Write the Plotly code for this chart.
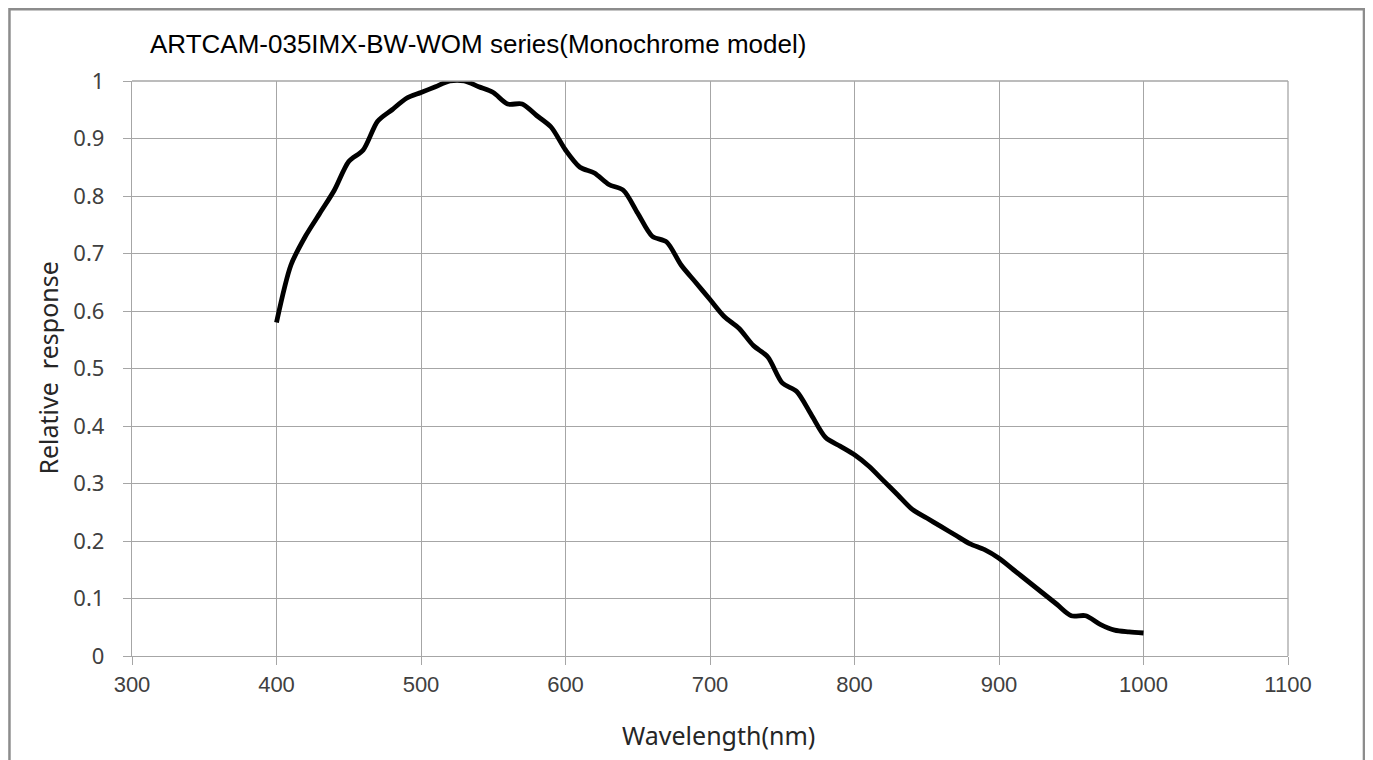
import plotly.graph_objects as go

wavelength = [400, 410, 420, 430, 440, 450, 460, 470, 480, 490,
              500, 510, 520, 530, 540, 550, 560, 570, 580, 590,
              600, 610, 620, 630, 640, 650, 660, 670, 680, 690,
              700, 710, 720, 730, 740, 750, 760, 770, 780, 790,
              800, 810, 820, 830, 840, 850, 860, 870, 880, 890,
              900, 910, 920, 930, 940, 950, 960, 970, 980, 990, 1000]
response = [0.58, 0.68, 0.73, 0.77, 0.81, 0.86, 0.88, 0.93, 0.95, 0.97,
            0.98, 0.99, 1.00, 1.00, 0.99, 0.98, 0.96, 0.96, 0.94, 0.92,
            0.88, 0.85, 0.84, 0.82, 0.81, 0.77, 0.73, 0.72, 0.68, 0.65,
            0.62, 0.59, 0.57, 0.54, 0.52, 0.475, 0.46, 0.42, 0.38, 0.365,
            0.35, 0.33, 0.305, 0.28, 0.255, 0.24, 0.225, 0.21, 0.195, 0.185,
            0.17, 0.15, 0.13, 0.11, 0.09, 0.07, 0.07, 0.055, 0.045, 0.042, 0.04]

x_ticks = [300, 400, 500, 600, 700, 800, 900, 1000, 1100]
y_ticks = [0, 0.1, 0.2, 0.3, 0.4, 0.5, 0.6, 0.7, 0.8, 0.9, 1]
y_tick_text = ["0", "0.1", "0.2", "0.3", "0.4", "0.5", "0.6", "0.7", "0.8", "0.9", "1"]

title_text = "ARTCAM-035IMX-BW-WOM series(Monochrome model)"
x_title = "Wavelength(nm)"
y_title = "Relative  response"

fig = go.Figure()
fig.add_trace(go.Scatter(
    x=wavelength, y=response, mode="lines",
    line=dict(color="black", width=4.8, shape="spline", smoothing=0.8),
    showlegend=False, hoverinfo="x+y",
))

grid = "#a6a6a6"
fig.update_layout(
    width=1373, height=760,
    margin=dict(l=124, r=93, t=73, b=112),
    paper_bgcolor="white", plot_bgcolor="white",
    xaxis=dict(
        range=[300, 1100], tickvals=x_ticks, ticktext=[str(v) for v in x_ticks],
        showgrid=True, gridcolor=grid, gridwidth=1.3,
        showline=True, linecolor=grid, linewidth=1.3, mirror=False,
        ticks="outside", ticklen=8, tickcolor=grid, tickwidth=1.3,
        tickfont=dict(family="Liberation Sans", size=22, color="#404040"),
        zeroline=False,
    ),
    yaxis=dict(
        range=[0, 1], tickvals=y_ticks, ticktext=y_tick_text,
        showgrid=True, gridcolor=grid, gridwidth=1.3,
        showline=True, linecolor=grid, linewidth=1.3,
        ticks="outside", ticklen=8, tickcolor=grid, tickwidth=1.3,
        tickfont=dict(family="Noto Sans", size=22, color="#404040"),
        ticklabelstandoff=14,
        zeroline=False,
    ),
)

# right and top edges of the plot frame (gridline look)
fig.add_shape(type="line", xref="paper", yref="paper", x0=1, x1=1, y0=0, y1=1,
              line=dict(color=grid, width=1.3))
fig.add_shape(type="line", xref="paper", yref="paper", x0=0, x1=1, y0=1, y1=1,
              line=dict(color=grid, width=1.3))

# outer chart border
fig.add_shape(type="rect", xref="paper", yref="paper",
              x0=-0.1060, x1=1.0657, y0=-0.25, y1=1.1249,
              line=dict(color="#8c8c8c", width=2.5), fillcolor="rgba(0,0,0,0)", layer="below")

fig.add_annotation(
    text=title_text, xref="paper", yref="paper", x=0.0138, y=1.0643,
    xanchor="left", yanchor="middle", showarrow=False,
    font=dict(family="Liberation Sans", size=26, color="black"),
)
fig.add_annotation(
    text=x_title, xref="paper", yref="paper", x=0.507, y=-0.1374,
    xanchor="center", yanchor="middle", showarrow=False,
    font=dict(family="Noto Sans", size=25, color="#262626"),
)
fig.add_annotation(
    text=y_title, xref="paper", yref="paper", x=-0.0735, y=0.5,
    xanchor="center", yanchor="middle", showarrow=False, textangle=-90,
    font=dict(family="Noto Sans", size=25, color="#262626"),
)

fig.write_html("out.html")
